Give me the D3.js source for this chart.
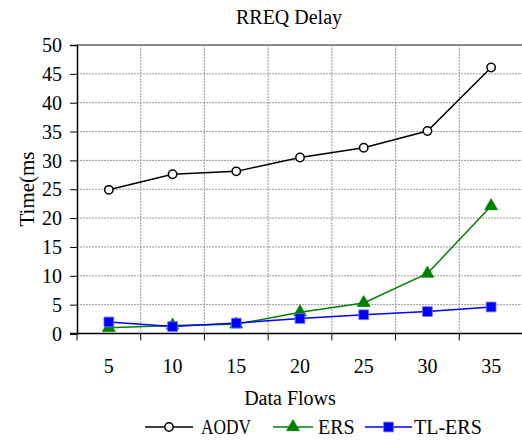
<!DOCTYPE html>
<html><head><meta charset="utf-8">
<script src="https://cdn.jsdelivr.net/npm/d3@7"></script>
<style>body{margin:0;background:#fff}svg{display:block}</style>
</head><body><svg id="c" width="522" height="440"></svg>
<script>
const categories = ["5","10","15","20","25","30","35"];
const aodv = [24.9, 27.6, 28.1, 30.5, 32.2, 35.1, 46.1];
const ers = [1.0, 1.4, 1.6, 3.7, 5.3, 10.4, 22.1];
const tlers = [2.0, 1.2, 1.8, 2.6, 3.25, 3.8, 4.6];
const yTicks = [0,5,10,15,20,25,30,35,40,45,50];
const seriesNames = ["AODV","ERS","TL-ERS"];
const colors = ["#000000","#008000","#0000FF"];
const FONT = "'Liberation Serif', 'Times New Roman', Tinos, 'DejaVu Serif', serif";

const svg = d3.select("#c");
const L = 77, R = 523, T = 45, B = 333.5;
const x = d3.scaleBand().domain(categories).range([L, R]);
const y = d3.scaleLinear().domain([0,50]).range([B, T]);

// gridlines
const g = svg.append("g");
g.selectAll(".hg").data(yTicks.filter(d=>d>0 && d<50)).join("line")
 .attr("x1", L).attr("x2", R).attr("y1", d=>y(d)).attr("y2", d=>y(d))
 .attr("stroke","#999").attr("stroke-width",1).attr("stroke-dasharray","2,1");
g.selectAll(".vg").data(categories.slice(1)).join("line")
 .attr("x1", d=>x(d)).attr("x2", d=>x(d)).attr("y1", T).attr("y2", B)
 .attr("stroke","#999").attr("stroke-width",1).attr("stroke-dasharray","2,1");
// top border
svg.append("line").attr("x1",L).attr("x2",R).attr("y1",T).attr("y2",T).attr("stroke","#888").attr("stroke-width",2);

// y axis
const ya = svg.append("g").attr("transform",`translate(${L},0)`)
 .call(d3.axisLeft(y).tickValues(yTicks).tickSize(7).tickPadding(8));
ya.attr("font-family", null).attr("font-size", null);
ya.select(".domain").attr("stroke","#000").attr("stroke-width",1.5);
ya.selectAll(".tick line").attr("stroke","#000").attr("stroke-width",1);
ya.selectAll("text").style("font-size","20px").style("font-family",FONT).attr("fill","#000").attr("dy","0.33em");

// x axis
const xa = svg.append("g").attr("transform",`translate(0,${B})`)
 .call(d3.axisBottom(x).tickSize(0));
xa.attr("font-family", null).attr("font-size", null);
xa.select(".domain").remove();
xa.selectAll("text").style("font-size","20px").style("font-family",FONT).attr("fill","#000")
  .attr("dy", null).attr("y", 373 - B);
svg.append("line").attr("x1",L-7).attr("x2",R).attr("y1",B).attr("y2",B).attr("stroke","#000").attr("stroke-width",1.5);
svg.selectAll(".xt").data([L].concat(categories.slice(1).map(c=>x(c)))).join("line")
 .attr("x1",d=>d).attr("x2",d=>d).attr("y1",B).attr("y2",B+7).attr("stroke","#000").attr("stroke-width",1);

// titles
const txt = (xx, yy, s, fs, anchor) => svg.append("text").attr("x",xx).attr("y",yy)
  .attr("text-anchor",anchor||"middle").style("font-size",fs+"px").style("font-family",FONT).attr("fill","#000").text(s);
txt(289, 24, "RREQ Delay", 20);
txt(290, 405, "Data Flows", 20);
svg.append("text").attr("transform","translate(34,189) rotate(-90)").attr("text-anchor","middle")
  .style("font-size","21px").style("font-family",FONT).attr("fill","#000").text("Time(ms");

const xc = c => x(c) + x.bandwidth()/2;
const line = d3.line().x((d,i)=>xc(categories[i])).y(d=>y(d));
const data = [aodv, ers, tlers];
const sym = [d3.symbolCircle, d3.symbolTriangle, d3.symbolSquare];
const symSize = [55, 70, 95];

data.forEach((vals, si) => {
  svg.append("path").datum(vals).attr("d", line).attr("fill","none")
   .attr("stroke", colors[si]).attr("stroke-width",1.5);
});
data.forEach((vals, si) => {
  svg.selectAll(".m"+si).data(vals).join("path")
   .attr("transform",(d,i)=>`translate(${xc(categories[i])},${y(d)})`)
   .attr("d", d3.symbol().type(sym[si]).size(symSize[si]))
   .attr("fill", si===0 ? "#fff" : colors[si])
   .attr("stroke", si===2 ? "#6f6fff" : colors[si]).attr("stroke-width", si===0?1.5:0.8);
});

// legend
const legY = 427;
const legX = [[145,193,201],[273,313,318],[365,412,414]];
seriesNames.forEach((n, si) => {
  const [a,b,t] = legX[si];
  svg.append("line").attr("x1",a).attr("x2",b).attr("y1",legY).attr("y2",legY).attr("stroke",colors[si]).attr("stroke-width",1.5);
  svg.append("path").attr("transform",`translate(${(a+b)/2},${legY})`)
   .attr("d", d3.symbol().type(sym[si]).size(symSize[si]))
   .attr("fill", si===0 ? "#fff" : colors[si]).attr("stroke", si===2 ? "#6f6fff" : colors[si]).attr("stroke-width", si===0?1.5:0.8);
  const tt = txt(t, legY+7, n, 20, "start");
  if (n === "AODV") tt.attr("textLength", 50).attr("lengthAdjust","spacingAndGlyphs");
});
</script></body></html>
